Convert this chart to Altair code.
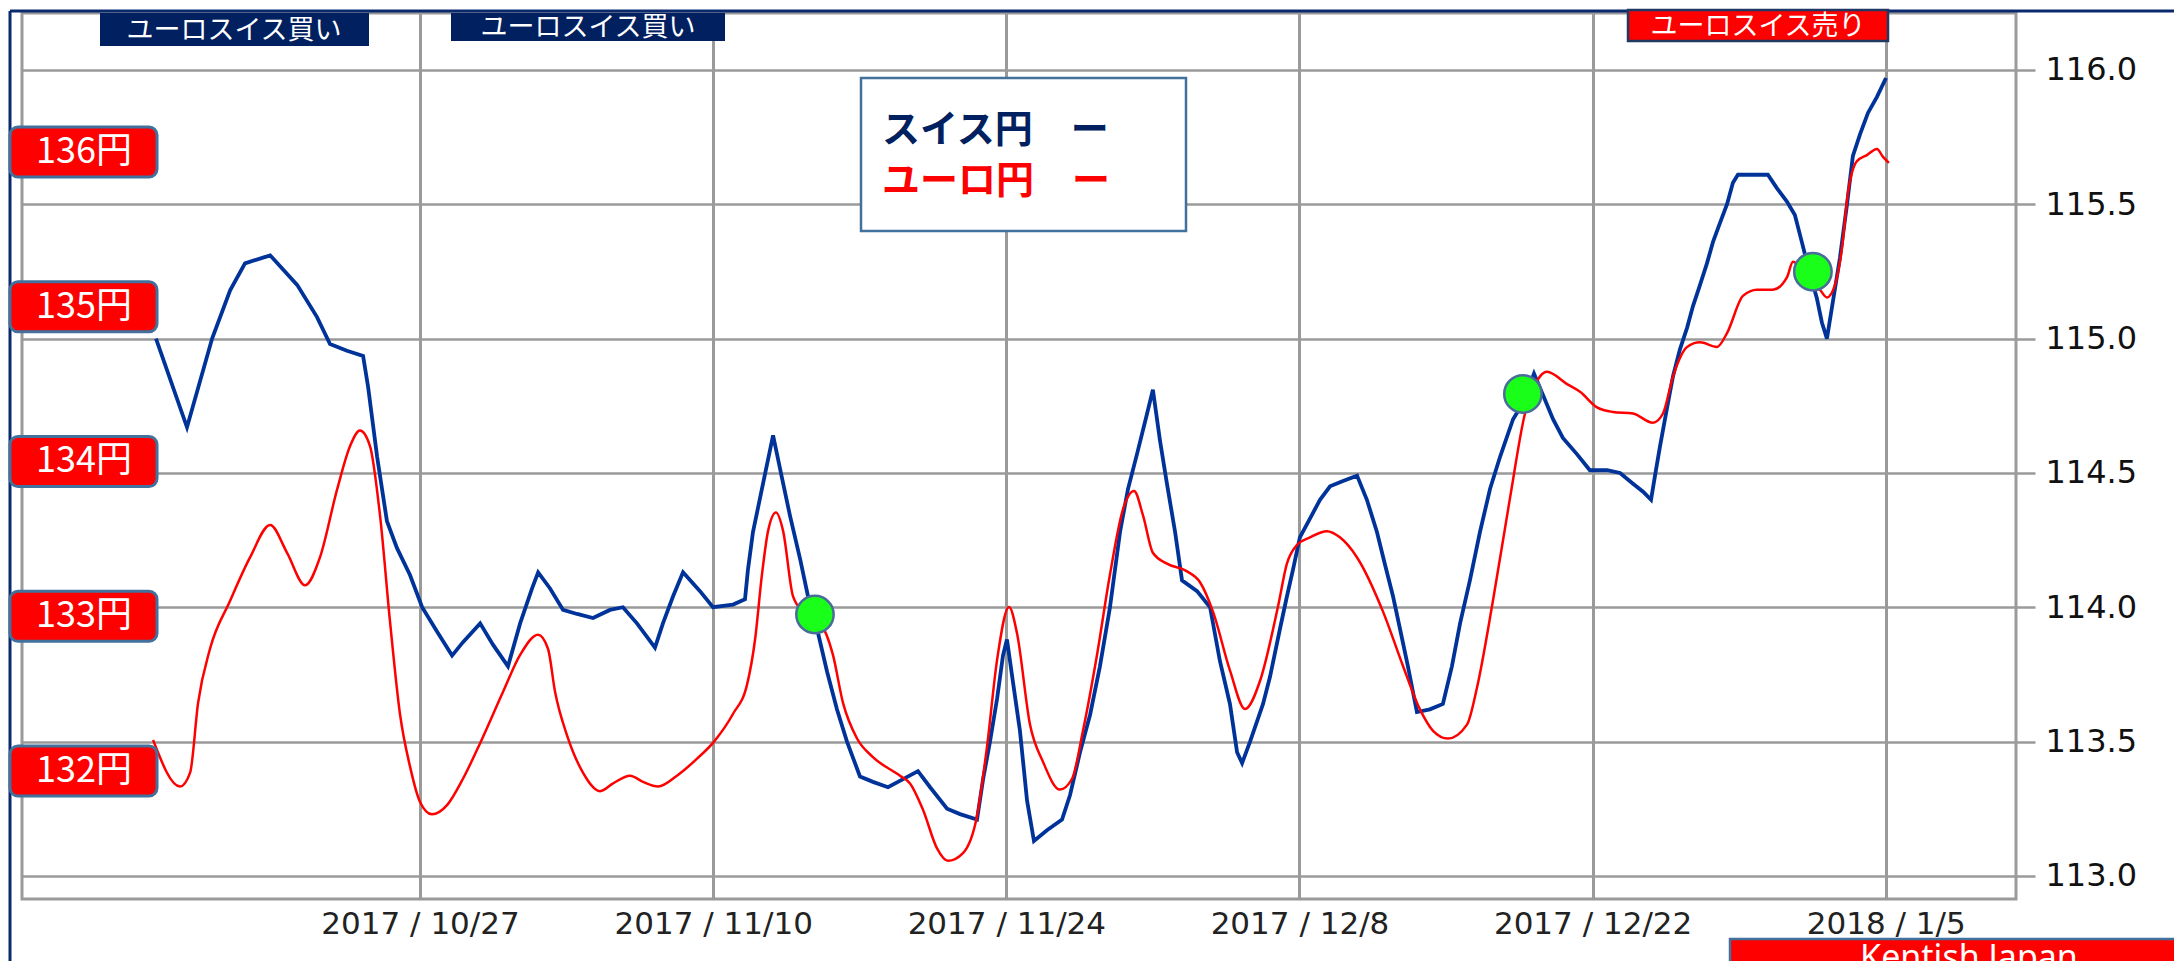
import altair as alt
import pandas as pd

BASE = pd.Timestamp("2017-10-27 00:00:00")

# スイス円 (CHF/JPY): days from 2017/10/27, rate (right axis)
chf_day = [-12.61, -11.13, -9.93, -9.07, -8.36, -7.16, -5.87, -4.92, -4.30, -3.49,
           -2.72, -2.48, -2.05, -1.58, -1.10, -0.48, 0.10, 0.81, 1.53, 2.05,
           2.87, 3.49, 4.20, 4.78, 5.35, 5.64, 6.21, 6.83, 7.50, 8.26,
           9.07, 9.69, 10.36, 10.84, 11.22, 11.60, 12.08, 12.56, 13.37, 13.99,
           14.95, 15.52, 15.66, 15.90, 16.38, 16.86, 17.29, 17.67, 18.15, 18.53,
           18.96, 19.44, 19.91, 20.39, 21.01, 21.63, 22.35, 23.07, 23.78, 24.36,
           25.17, 25.79, 26.60, 26.89, 27.22, 27.56, 27.84, 28.03, 28.32, 28.65,
           28.99, 29.32, 29.94, 30.66, 31.04, 31.52, 32.00, 32.47, 32.95, 33.43,
           33.81, 34.24, 34.72, 35.00, 35.34, 35.67, 36.06, 36.39, 37.11, 37.73,
           38.20, 38.68, 39.02, 39.26, 39.64, 40.26, 40.59, 41.07, 41.40, 41.69,
           42.02, 42.50, 42.98, 43.46, 44.08, 44.75, 45.22, 45.70, 46.08, 46.47,
           46.80, 47.18, 47.61, 48.23, 48.85, 49.28, 49.67, 50.14, 50.62, 51.10,
           51.58, 52.20, 52.67, 53.20, 53.63, 54.11, 54.58, 55.25, 55.87, 56.69,
           57.31, 57.93, 58.41, 58.79, 58.98, 59.22, 59.55, 59.84, 60.17, 60.51,
           60.79, 61.13, 61.46, 61.75, 62.08, 62.42, 62.70, 62.94, 64.37, 64.80,
           65.28, 65.66, 65.99, 66.38, 66.71, 66.95, 67.19, 67.48, 67.81, 68.15,
           68.43, 68.77, 69.15, 69.58, 70.01]
chf_rate = [115.00, 114.67, 115.00, 115.18, 115.28, 115.31, 115.20, 115.08, 114.98, 114.955,
            114.935, 114.82, 114.56, 114.32, 114.22, 114.12, 114.00, 113.91, 113.82, 113.87,
            113.94, 113.86, 113.78, 113.94, 114.07, 114.13, 114.07, 113.99, 113.975, 113.96,
            113.99, 114.00, 113.94, 113.89, 113.85, 113.94, 114.04, 114.13, 114.06, 114.00,
            114.01, 114.03, 114.14, 114.28, 114.46, 114.64, 114.48, 114.34, 114.18, 114.04,
            113.92, 113.76, 113.62, 113.50, 113.37, 113.35, 113.33, 113.36, 113.39, 113.33,
            113.25, 113.23, 113.21, 113.36, 113.50, 113.66, 113.82, 113.88, 113.72, 113.54,
            113.28, 113.13, 113.17, 113.21, 113.30, 113.46, 113.60, 113.78, 114.00, 114.28,
            114.44, 114.57, 114.72, 114.81, 114.62, 114.46, 114.28, 114.10, 114.06, 114.00,
            113.80, 113.64, 113.46, 113.42, 113.50, 113.64, 113.74, 113.92, 114.04, 114.14,
            114.26, 114.33, 114.40, 114.45, 114.47, 114.49, 114.40, 114.28, 114.16, 114.04,
            113.92, 113.78, 113.61, 113.62, 113.64, 113.78, 113.94, 114.10, 114.28, 114.44,
            114.56, 114.70, 114.76, 114.87, 114.79, 114.70, 114.63, 114.57, 114.51, 114.51,
            114.50, 114.46, 114.43, 114.40, 114.49, 114.60, 114.74, 114.86, 114.96, 115.04,
            115.12, 115.20, 115.28, 115.36, 115.43, 115.50, 115.58, 115.61, 115.61, 115.56,
            115.51, 115.46, 115.36, 115.24, 115.15, 115.06, 115.00, 115.14, 115.30, 115.50,
            115.68, 115.76, 115.84, 115.90, 115.97]

# ユーロ円 (EUR/JPY): days from 2017/10/27, rate (円 labels on the left)
eur_day = [-12.75, -11.46, -10.98, -10.60, -10.03, -9.07, -8.12, -7.16, -6.35, -5.49,
           -4.78, -3.96, -3.34, -2.87, -2.39, -1.91, -1.43, -0.96, -0.48, 0.00,
           0.57, 1.29, 2.05, 2.87, 3.96, 4.78, 5.64, 6.11, 6.45, 7.02,
           7.78, 8.60, 9.22, 10.03, 10.65, 11.37, 12.27, 13.23, 14.04, 14.95,
           15.62, 16.00, 16.33, 16.62, 17.00, 17.34, 17.81, 18.29, 19.10, 19.72,
           20.20, 20.87, 21.63, 22.92, 23.40, 24.02, 24.69, 25.21, 25.93, 26.60,
           27.08, 27.56, 28.13, 28.51, 29.13, 29.75, 30.56, 31.14, 31.66, 32.33,
           32.95, 33.57, 34.10, 34.53, 35.00, 35.67, 36.63, 37.25, 37.87, 38.68,
           39.40, 40.11, 40.97, 41.40, 41.88, 42.50, 43.31, 43.93, 44.75, 45.99,
           46.94, 47.75, 48.38, 49.09, 50.00, 50.48, 51.24, 52.05, 52.77, 53.49,
           53.82, 54.78, 55.40, 56.21, 56.97, 57.93, 58.88, 59.36, 59.84, 60.51,
           61.13, 61.94, 62.42, 63.18, 63.85, 64.61, 65.28, 65.57, 66.14, 66.86,
           67.19, 67.57, 67.91, 68.19, 68.62, 69.10, 69.58, 69.86, 70.15]
eur_rate = [132.20, 131.90, 131.99, 132.44, 132.79, 133.10, 133.38, 133.59, 133.41, 133.20,
            133.38, 133.82, 134.10, 134.20, 134.10, 133.65, 132.96, 132.37, 132.03, 131.80,
            131.72, 131.78, 131.95, 132.18, 132.51, 132.75, 132.88, 132.79, 132.51, 132.23,
            131.99, 131.87, 131.92, 131.97, 131.93, 131.90, 131.97, 132.08, 132.19, 132.37,
            132.56, 132.85, 133.27, 133.55, 133.67, 133.55, 133.13, 133.03, 132.96, 132.75,
            132.44, 132.21, 132.09, 131.97, 131.92, 131.75, 131.50, 131.42, 131.47, 131.71,
            132.16, 132.72, 133.06, 132.89, 132.30, 132.06, 131.88, 131.95, 132.26, 132.75,
            133.27, 133.69, 133.81, 133.65, 133.41, 133.34, 133.29, 133.22, 133.03, 132.65,
            132.40, 132.58, 133.06, 133.34, 133.46, 133.51, 133.55, 133.51, 133.38, 133.03,
            132.68, 132.40, 132.26, 132.21, 132.30, 132.54, 133.10, 133.76, 134.31, 134.55,
            134.58, 134.50, 134.45, 134.35, 134.32, 134.31, 134.25, 134.31, 134.55, 134.74,
            134.77, 134.74, 134.83, 135.07, 135.11, 135.11, 135.19, 135.29, 135.22, 135.11,
            135.06, 135.14, 135.38, 135.73, 135.94, 135.98, 136.02, 135.97, 135.93]

# green signal markers (on the スイス円 scale)
signal_day = [18.86, 52.67, 66.52]
signal_rate = [113.973, 114.794, 115.249]

yen_level = [136, 135, 134, 133, 132]
yen_label = ["136円", "135円", "134円", "133円", "132円"]

date_ticks = [(2017, 10, 27), (2017, 11, 10), (2017, 11, 24), (2017, 12, 8), (2017, 12, 22), (2018, 1, 5)]
rate_ticks = [113.0, 113.5, 114.0, 114.5, 115.0, 115.5, 116.0]


def to_time(days):
    return [(BASE + pd.Timedelta(days=d)).strftime("%Y-%m-%dT%H:%M:%S") for d in days]


chf = pd.DataFrame({"t": to_time(chf_day), "v": chf_rate})
eur = pd.DataFrame({"t": to_time(eur_day), "v": eur_rate})
sig = pd.DataFrame({"t": to_time(signal_day), "v": signal_rate})
lvl = pd.DataFrame({"v": yen_level, "label": yen_label})
one = pd.DataFrame({"k": [0]})

GRAY = "#9A9A9A"
NAVY = "#002060"
STEEL = "#41719C"
JP = "Noto Sans CJK JP"

x_scale = alt.Scale(domain=[alt.DateTime(year=2017, month=10, date=7, hours=23, minutes=46),
                            alt.DateTime(year=2018, month=1, date=11, hours=5, minutes=17)], nice=False)
chf_scale = alt.Scale(domain=[112.914, 116.212], nice=False, zero=False)
eur_scale = alt.Scale(domain=[131.173, 136.898], nice=False, zero=False)

blue = alt.Chart(chf).mark_line(color="#003399", strokeWidth=3.8, interpolate="linear").encode(
    x=alt.X("t:T", scale=x_scale,
            axis=alt.Axis(values=[alt.DateTime(year=y, month=m, date=d) for y, m, d in date_ticks],
                          format="%Y / %-m/%-d", title=None, grid=True, gridColor=GRAY, gridWidth=3,
                          ticks=False, domain=False, labelFont="DejaVu Sans", labelFontSize=31,
                          labelColor="#222222", labelPadding=10, labelAngle=0, labelOverlap=False,
                          labelFlush=False, labelLimit=0)),
    y=alt.Y("v:Q", scale=chf_scale,
            axis=alt.Axis(orient="right", values=rate_ticks, format=".1f", title=None, grid=True,
                          gridColor=GRAY, gridWidth=2.5, domain=False, tickColor=GRAY, tickWidth=2.5,
                          tickSize=19, labelFont="DejaVu Sans", labelFontSize=32, labelColor="#111111",
                          labelPadding=10, labelLimit=0)),
)

red_line = alt.Chart(eur).mark_line(color="#FF0000", strokeWidth=2.5, interpolate="monotone").encode(
    x=alt.X("t:T", scale=x_scale, title=None),
    y=alt.Y("v:Q", scale=eur_scale, axis=None),
)
lvl_box = alt.Chart(lvl).transform_calculate(
    lo="datum.v - 0.162", hi="datum.v + 0.162"
).mark_rect(cornerRadius=8, fill="#FF0000", stroke=STEEL, strokeWidth=3).encode(
    x=alt.value(-12), x2=alt.value(135),
    y=alt.Y("lo:Q", scale=eur_scale, axis=None), y2="hi:Q",
)
lvl_text = alt.Chart(lvl).mark_text(color="white", fontSize=36, font=JP, align="center",
                                    baseline="middle").encode(
    x=alt.value(62), y=alt.Y("v:Q", scale=eur_scale, axis=None), text="label:N",
)
red_group = alt.layer(red_line, lvl_box, lvl_text)

sig_pts = alt.Chart(sig).mark_circle(size=1400, color="#1AFF1A", opacity=1, stroke="#4A6C9B",
                                     strokeWidth=2.5).encode(
    x=alt.X("t:T", scale=x_scale, title=None),
    y=alt.Y("v:Q", scale=chf_scale, axis=None),
)


def box(x1, x2, y1, y2, **kw):
    return alt.Chart(one).mark_rect(**kw).encode(
        x=alt.value(x1), x2=alt.value(x2), y=alt.value(y1), y2=alt.value(y2))


def label(txt, x, y, **kw):
    return alt.Chart(one).mark_text(text=txt, **kw).encode(x=alt.value(x), y=alt.value(y))


frame_left = alt.Chart(one).mark_rule(color="#0B2A6E", strokeWidth=3).encode(
    x=alt.value(-12), y=alt.value(-2), y2=alt.value(960))
frame_top = alt.Chart(one).mark_rule(color="#0B2A6E", strokeWidth=3).encode(
    x=alt.value(-12), x2=alt.value(2170), y=alt.value(-2))

banner_style = dict(color="white", fontSize=27, font=JP, align="center", baseline="middle")
legend_style = dict(fontSize=38, fontWeight="bold", font=JP, align="left", baseline="middle")

annotations = [
    box(839, 1164, 65, 218, fill="white", stroke=STEEL, strokeWidth=2.5),
    label("スイス円　ー", 860, 118, color=NAVY, **legend_style),
    label("ユーロ円　ー", 860, 169, color="#FF0000", **legend_style),
    box(78, 347, 0, 33, fill=NAVY),
    label("ユーロスイス買い", 212, 18, **banner_style),
    box(429, 703, 0, 28, fill=NAVY),
    label("ユーロスイス買い", 566, 15, **banner_style),
    box(1606, 1866, -3, 28, fill="#FF0000", stroke="#1F3864", strokeWidth=2.5),
    label("ユーロスイス売り", 1736, 14, **banner_style),
    box(1708, 2170, 926, 990, fill="#FF0000", stroke=STEEL, strokeWidth=2.5),
    label("Kentish Japan", 1947, 956, color="white", fontSize=34, font="Noto Sans",
          align="center", baseline="alphabetic"),
]

chart = alt.layer(
    frame_left, frame_top, blue, red_group, sig_pts, *annotations
).resolve_scale(y="independent").properties(
    width=1994, height=886,
    padding={"left": 14, "top": 5, "right": 158, "bottom": 62},
    autosize=alt.AutoSizeParams(type="none"),
).configure_view(stroke=GRAY, strokeWidth=3)

chart.save("out.html", embed_options={"renderer": "svg", "actions": False})
